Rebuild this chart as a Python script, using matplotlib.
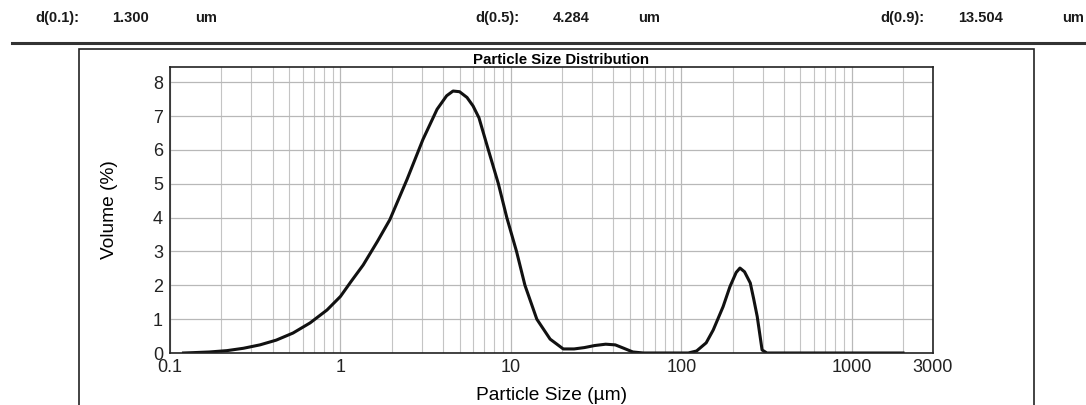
import matplotlib.pyplot as plt
from matplotlib.ticker import FixedLocator, LogLocator, NullFormatter
from matplotlib.lines import Line2D
from matplotlib.patches import Rectangle

plt.rcParams['font.family'] = ['Liberation Sans', 'DejaVu Sans']

# particle size (um) vs volume (%)
size_um = [0.12, 0.136, 0.17, 0.216, 0.27, 0.337, 0.42, 0.527, 0.664, 0.834,
           1.0, 1.15, 1.36, 1.65, 1.95, 2.46, 3.05, 3.69, 4.2, 4.58,
           5.0, 5.53, 6.0, 6.5, 7.38, 8.45, 9.47, 10.8, 12.1, 14.2,
           17.0, 20.3, 23.5, 27.0, 31.0, 36.0, 41.0, 46.0, 52.0, 60.0,
           110, 123, 140, 154, 176, 193, 210, 221, 235, 254,
           266, 279, 298, 318, 2000]
volume_pct = [0.0, 0.01, 0.03, 0.07, 0.14, 0.24, 0.38, 0.59, 0.89, 1.27,
              1.67, 2.1, 2.6, 3.3, 3.94, 5.13, 6.31, 7.2, 7.6, 7.74,
              7.72, 7.55, 7.3, 6.95, 6.0, 5.0, 4.0, 3.0, 2.0, 1.0,
              0.41, 0.12, 0.12, 0.16, 0.22, 0.26, 0.24, 0.14, 0.03, 0.0,
              0.0, 0.06, 0.3, 0.68, 1.37, 1.96, 2.38, 2.51, 2.4, 2.07,
              1.6, 1.08, 0.09, 0.0, 0.0]

x_ticks = [0.1, 1, 10, 100, 1000, 3000]
x_tick_labels = ['0.1', '1', '10', '100', '1000', '3000']
y_ticks = [0, 1, 2, 3, 4, 5, 6, 7, 8]

# d-values shown in the header row
d_names = ['d(0.1):', 'd(0.5):', 'd(0.9):']
d_values = ['1.300', '4.284', '13.504']


def main():
    fig = plt.figure(figsize=(10.86, 4.05), dpi=100)
    W, H = 1086.0, 405.0

    # header row
    header_x = [(35, 112, 195), (475, 553, 638), (880, 958, 1062)]
    for (xn, xv, xu), name, val in zip(header_x, d_names, d_values):
        for xp, txt in ((xn, name), (xv, val), (xu, 'um')):
            fig.text(xp / W, 1 - 18 / H, txt, fontsize=10.5, fontweight='bold',
                     va='center', ha='left', color='#1a1a1a')
    fig.add_artist(Line2D([12 / W, 1.0], [1 - 43 / H, 1 - 43 / H],
                          transform=fig.transFigure, color='#333333', lw=2.2))

    # frame around the chart
    fig.add_artist(Rectangle((79 / W, -0.05), (1034 - 79) / W, 1 - 49 / H + 0.05,
                             transform=fig.transFigure, fill=False,
                             edgecolor='#222222', lw=1.2))

    ax = fig.add_axes([170 / W, 1 - 353 / H, (933 - 170) / W, (353 - 67) / H])
    ax.set_xscale('log')
    ax.set_xlim(0.1, 3000)
    ax.set_ylim(0, 8.45)

    ax.plot(size_um, volume_pct, color='#111111', lw=2.2, solid_joinstyle='round')

    ax.xaxis.set_major_locator(FixedLocator(x_ticks))
    ax.set_xticklabels(x_tick_labels)
    ax.xaxis.set_minor_locator(LogLocator(base=10, subs=range(2, 10), numticks=20))
    ax.xaxis.set_minor_formatter(NullFormatter())
    ax.set_yticks(y_ticks)

    ax.grid(True, which='major', axis='both', color='#b8b8b8', lw=0.9)
    ax.grid(True, which='minor', axis='x', color='#c4c4c4', lw=0.8)
    ax.set_axisbelow(True)

    ax.tick_params(which='both', length=0, labelsize=13, colors='#222222')
    ax.tick_params(axis='y', pad=5)
    ax.tick_params(axis='x', pad=4)
    for sp in ax.spines.values():
        sp.set_color('#222222')
        sp.set_linewidth(1.2)

    ax.set_title('Particle Size Distribution', fontsize=10.8, fontweight='bold',
                 pad=1, x=0.512)
    ax.set_xlabel('Particle Size (\u00b5m)', fontsize=13.8, labelpad=8)
    ax.set_ylabel('Volume (%)', fontsize=13.8, labelpad=25)

    fig.savefig('out.png', dpi=100)
    print("Done")


if __name__ == "__main__":
    main()
